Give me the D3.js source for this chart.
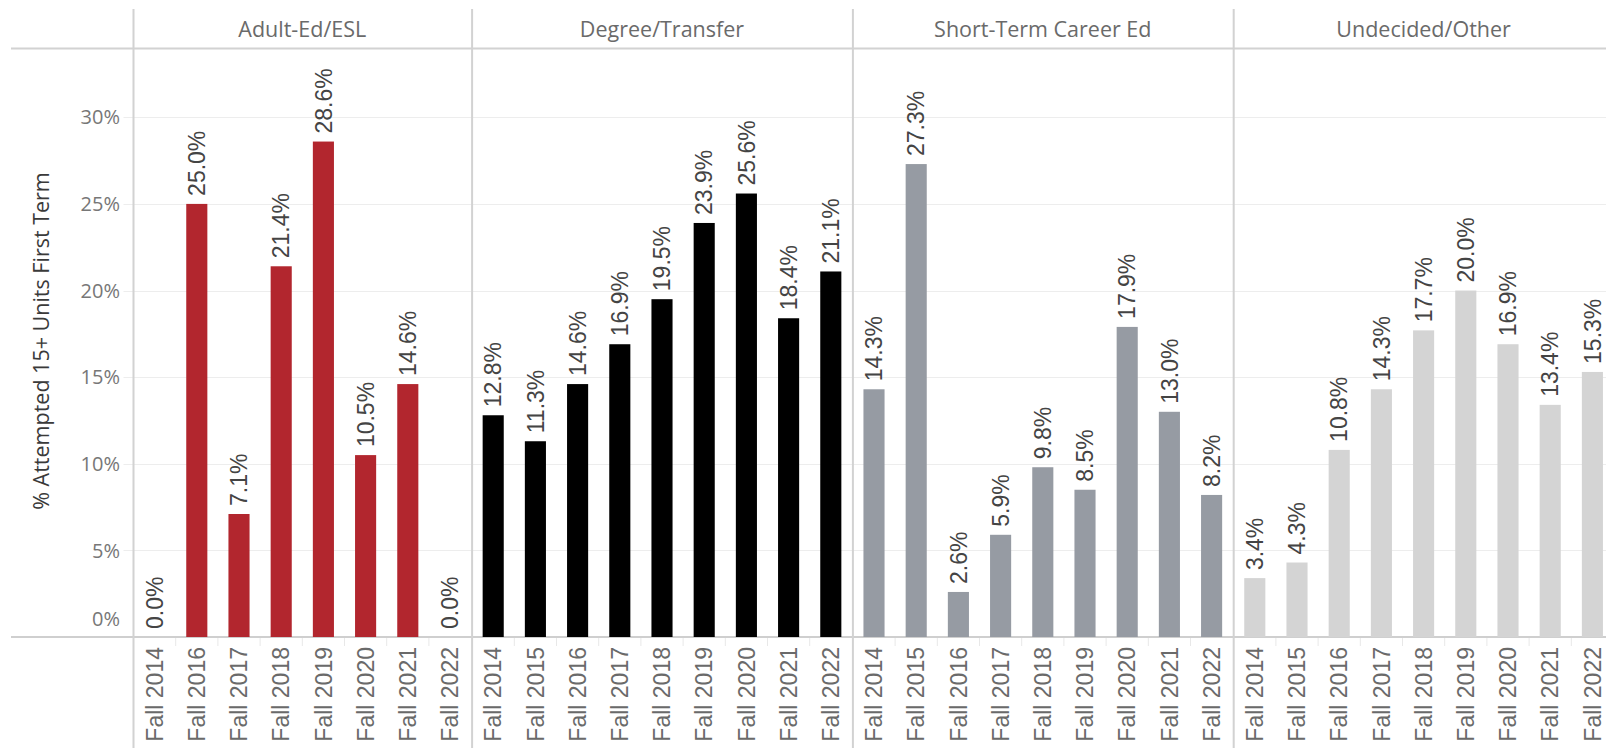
<!DOCTYPE html>
<html>
<head>
<meta charset="utf-8">
<script src="https://cdn.jsdelivr.net/npm/d3@7"></script>
<style>
    body { margin: 0; background: #fff; }
    #graphic1 text { font-family: "Open Sans", sans-serif; }
    #graphic1 .num { font-family: "Liberation Sans", Arial, sans-serif; }
</style>
</head>
<body>
<div id="graphic1"></div>
<script>
var panelNames = ["Adult-Ed/ESL", "Degree/Transfer", "Short-Term Career Ed", "Undecided/Other"],
    adultTerms = ["Fall 2014", "Fall 2016", "Fall 2017", "Fall 2018", "Fall 2019", "Fall 2020", "Fall 2021", "Fall 2022"],
    adultValues = [0.0, 25.0, 7.1, 21.4, 28.6, 10.5, 14.6, 0.0],
    degreeTerms = ["Fall 2014", "Fall 2015", "Fall 2016", "Fall 2017", "Fall 2018", "Fall 2019", "Fall 2020", "Fall 2021", "Fall 2022"],
    degreeValues = [12.8, 11.3, 14.6, 16.9, 19.5, 23.9, 25.6, 18.4, 21.1],
    careerTerms = ["Fall 2014", "Fall 2015", "Fall 2016", "Fall 2017", "Fall 2018", "Fall 2019", "Fall 2020", "Fall 2021", "Fall 2022"],
    careerValues = [14.3, 27.3, 2.6, 5.9, 9.8, 8.5, 17.9, 13.0, 8.2],
    otherTerms = ["Fall 2014", "Fall 2015", "Fall 2016", "Fall 2017", "Fall 2018", "Fall 2019", "Fall 2020", "Fall 2021", "Fall 2022"],
    otherValues = [3.4, 4.3, 10.8, 14.3, 17.7, 20.0, 16.9, 13.4, 15.3],
    panelColors = ["#b2262e", "#000000", "#969ba3", "#d4d4d4"],
    yTicks = [0, 5, 10, 15, 20, 25, 30];

var width = 1606,
    height = 748,
    plotLeft = 133.5,
    headerTop = 9,
    headerBottom = 48,
    baseY = 637,
    step = 42.2;

function graph1() {

    var svg = d3.select("#graphic1").append("svg")
        .attr("width", width)
        .attr("height", height);

    var y = d3.scaleLinear()
        .domain([0, 34])
        .range([baseY, headerBottom]);

    var panels = [
        { name: panelNames[0], terms: adultTerms, values: adultValues, color: panelColors[0] },
        { name: panelNames[1], terms: degreeTerms, values: degreeValues, color: panelColors[1] },
        { name: panelNames[2], terms: careerTerms, values: careerValues, color: panelColors[2] },
        { name: panelNames[3], terms: otherTerms, values: otherValues, color: panelColors[3] }
    ];

    // panel starts: each band is one step, 1px for the divider between panels
    var start = plotLeft;
    panels.forEach(function (p) {
        p.x0 = start;
        p.x = d3.scaleBand()
            .domain(p.terms)
            .range([start, start + p.terms.length * step])
            .paddingInner(0.5)
            .paddingOuter(0.25);
        start += p.terms.length * step + 1;
    });

    // gridlines
    svg.append("g")
        .selectAll("line")
        .data(yTicks.filter(function (d) { return d > 0; }))
        .enter().append("line")
        .attr("x1", plotLeft - 10)
        .attr("x2", width)
        .attr("y1", function (d) { return Math.round(y(d)) + 0.5; })
        .attr("y2", function (d) { return Math.round(y(d)) + 0.5; })
        .attr("stroke", "#ededed")
        .attr("stroke-width", 1);

    // y tick labels
    svg.append("g")
        .selectAll("text")
        .data(yTicks)
        .enter().append("text")
        .attr("x", 120)
        .attr("y", function (d) { return d == 0 ? y(d) - 18 : y(d); })
        .attr("dy", "0.36em")
        .attr("text-anchor", "end")
        .attr("font-size", 20)
        .attr("fill", "#777")
        .text(function (d) { return d + "%"; });

    // y axis title
    svg.append("text")
        .attr("transform", "translate(49," + 341 + ") rotate(-90)")
        .attr("text-anchor", "middle")
        .attr("font-size", 21.5)
        .attr("fill", "#3a3a3a")
        .text("% Attempted 15+ Units First Term");

    // header and baseline rules
    svg.append("line")
        .attr("x1", 11).attr("x2", width)
        .attr("y1", headerBottom + 0.5).attr("y2", headerBottom + 0.5)
        .attr("stroke", "#d2d2d2").attr("stroke-width", 2);

    svg.append("line")
        .attr("x1", 11).attr("x2", width)
        .attr("y1", baseY).attr("y2", baseY)
        .attr("stroke", "#cfcfcf").attr("stroke-width", 2);

    panels.forEach(function (p) {
        var g = svg.append("g");

        // divider
        g.append("line")
            .attr("x1", p.x0).attr("x2", p.x0)
            .attr("y1", headerTop).attr("y2", height)
            .attr("stroke", "#d2d2d2").attr("stroke-width", 2);

        // header
        var range = p.x.range();
        g.append("text")
            .attr("x", (range[0] + range[1]) / 2)
            .attr("y", 37)
            .attr("text-anchor", "middle")
            .attr("font-size", 21.5)
            .attr("fill", "#6a6a6a")
            .text(p.name);

        // small separators under the baseline
        g.selectAll(".sep")
            .data(p.terms.slice(1))
            .enter().append("line")
            .attr("class", "sep")
            .attr("x1", function (d) { return p.x(d) - p.x.bandwidth() / 2; })
            .attr("x2", function (d) { return p.x(d) - p.x.bandwidth() / 2; })
            .attr("y1", baseY + 1).attr("y2", baseY + 9)
            .attr("stroke", "#e8e8e8").attr("stroke-width", 1);

        var rows = p.terms.map(function (t, i) { return { term: t, value: p.values[i] }; });

        // bars
        g.selectAll("rect")
            .data(rows)
            .enter().append("rect")
            .attr("x", function (d) { return p.x(d.term); })
            .attr("width", p.x.bandwidth())
            .attr("y", function (d) { return y(d.value); })
            .attr("height", function (d) { return baseY - y(d.value); })
            .attr("fill", p.color);

        // value labels
        g.selectAll(".val")
            .data(rows)
            .enter().append("text")
            .attr("class", "val num")
            .attr("transform", function (d) {
                return "translate(" + (p.x(d.term) + p.x.bandwidth() / 2) + "," + (y(d.value) - 8) + ") rotate(-90)";
            })
            .attr("dy", "0.36em")
            .attr("font-size", 23)
            .attr("fill", "#444")
            .text(function (d) { return d.value.toFixed(1) + "%"; });

        // category labels
        g.selectAll(".cat")
            .data(p.terms)
            .enter().append("text")
            .attr("class", "cat num")
            .attr("transform", function (d) {
                return "translate(" + (p.x(d) + p.x.bandwidth() / 2) + "," + (baseY + 10) + ") rotate(-90)";
            })
            .attr("dy", "0.36em")
            .attr("text-anchor", "end")
            .attr("font-size", 23)
            .attr("fill", "#6a6a6a")
            .text(function (d) { return d; });
    });
}

graph1();
</script>
</body>
</html>
